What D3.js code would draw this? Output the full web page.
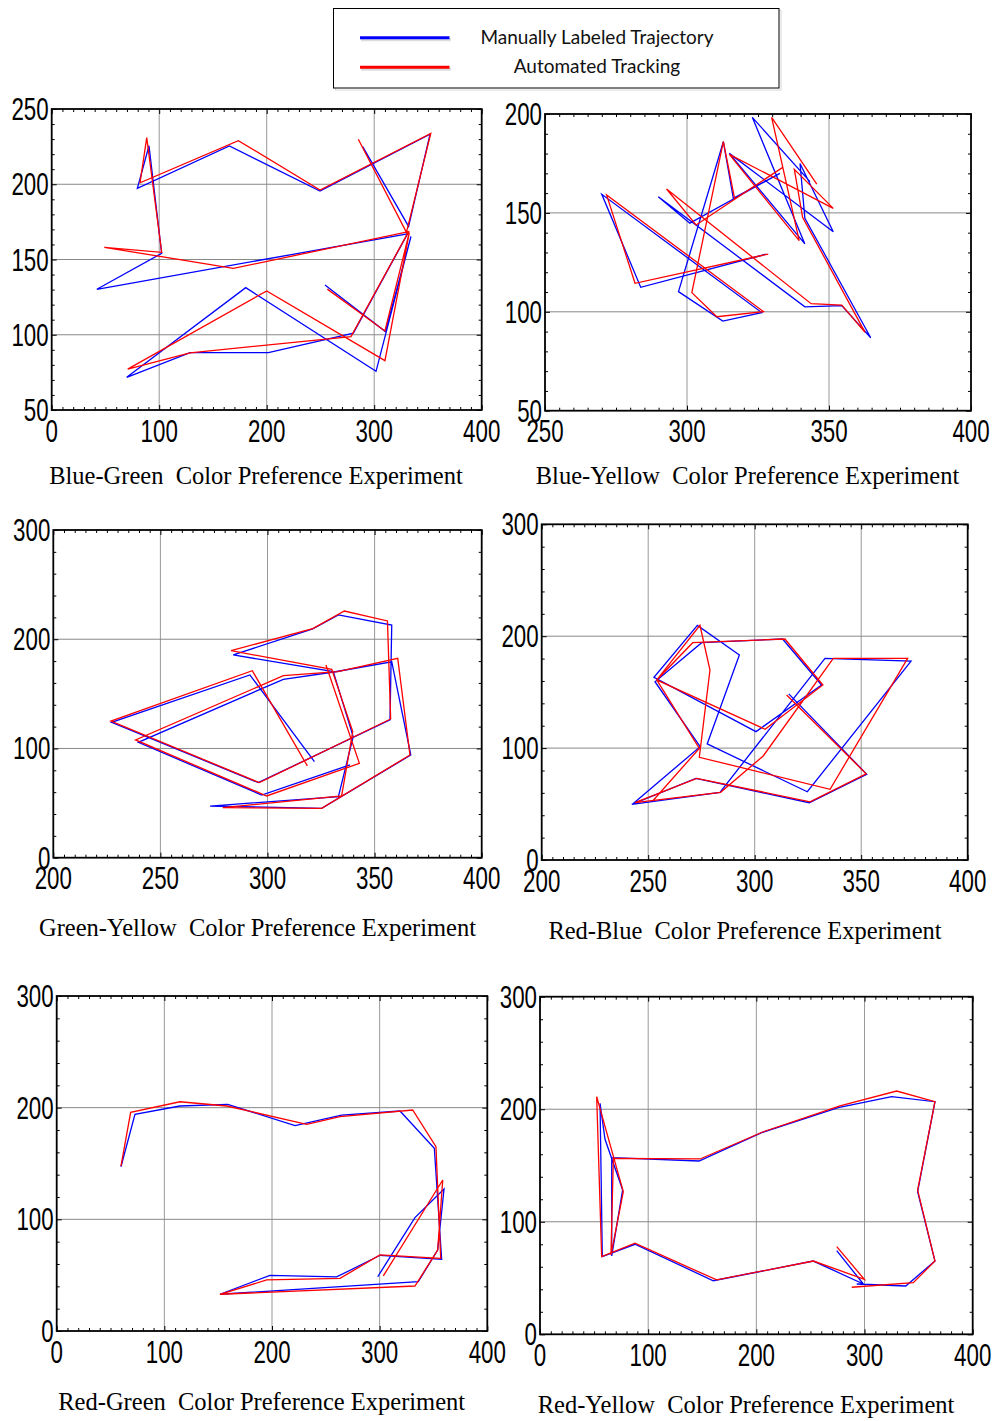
<!DOCTYPE html>
<html>
<head>
<meta charset="utf-8">
<script src="https://cdn.jsdelivr.net/npm/d3@7/dist/d3.min.js"></script>
<style>
  body { margin: 0; background: #fff; }
  svg { display: block; }
</style>
</head>
<body>
<svg id="chart" width="997" height="1421"></svg>
<script>

// legend
var legendLabels = ["Manually Labeled Trajectory", "Automated Tracking"];

// tick values
var ticks0to400 = [0, 100, 200, 300, 400];
var ticks250to400 = [250, 300, 350, 400];
var ticks200to400 = [200, 250, 300, 350, 400];
var ticks50to250 = [50, 100, 150, 200, 250];
var ticks50to200 = [50, 100, 150, 200];
var ticks0to300 = [0, 100, 200, 300];

// trajectories, [x, y] pairs
var blueGreenManual = [[254.2,133.1],[310.4,102.1],[334.2,165.3],[301.7,75.7],[180.5,131.3],[69.8,71.7],[128.7,88.1],[201.6,88.1],[280.6,101.1],[331,167],[42,130.2],[102.3,154.1],[90.5,225.6],[79.7,197.3],[165.3,225.4],[249.6,195.5],[351.9,233.2],[332,172],[289.3,225]];
var blueGreenAuto = [[256.4,130.3],[310,102.5],[332.7,168],[310,82.8],[200,129.1],[70.7,77.2],[128.7,88],[278.4,98.8],[332,168.5],[169,144.1],[49,158.1],[102.3,154.8],[88.4,231],[82.2,201],[173.6,229],[249.6,196.2],[352.6,233.8],[330,168],[285.2,229.9]];

var blueYellowManual = [[327.8,129.1],[283.7,112.4],[270,159.4],[326.3,99.6],[312.6,95.3],[297,110.2],[312.8,186],[316.3,157.4],[332.7,170],[301,144.8],[289.9,158.2],[341.5,102.5],[354.5,103.1],[364.7,86.9],[341.5,147.3],[339.8,175],[351.5,140.5],[314.9,180.1],[341.5,134.3],[323,198.3],[343.3,165.8]];
var blueYellowAuto = [[328.6,129.2],[281.7,114.4],[271.7,159],[326.9,100.1],[310.5,97.5],[301.7,109.7],[312.8,186],[316.8,157],[333.7,173],[303.2,143.9],[292.8,162.1],[343.7,104.1],[354.5,103.4],[362.7,89.6],[340.7,147.8],[337.8,172],[351.5,152.3],[314.9,179.6],[339.5,136],[329.8,198.3],[345.7,164.6]];

var greenYellowManual = [[321.9,87.9],[291.8,167.3],[227.2,123.9],[295.7,68.7],[357.2,126.2],[358,213],[333.1,222.2],[321.1,209.4],[284,185.6],[330.7,170.3],[340,110.8],[333.1,55.8],[273.2,47.3],[325.3,45.2],[366.9,94],[358,179.4],[331,170],[307.4,163.3],[239.7,105.6],[297.3,57.4],[338.5,85]];
var greenYellowAuto = [[318.6,84],[292.9,171.2],[226.9,125.1],[296.2,68.7],[357.5,127],[356,216.7],[335.9,225.8],[321.1,209.8],[283,189.5],[330,172.5],[339.8,115.4],[334.6,56.5],[279.1,45.8],[325.3,45.2],[366.5,94],[360.8,182.5],[332.8,170.3],[307.4,166.6],[238.4,107.8],[299.6,56.5],[342.9,86.4],[327.3,176.4]];

var redBlueManual = [[316,148.5],[352.6,76.6],[325.6,51.2],[272.4,73],[242.3,49.8],[283.7,60.5],[333,180.2],[373.4,177.8],[324.7,61],[277.7,103.7],[292.8,183.2],[273.1,209.7],[252.7,163.3],[300.6,114.7],[331.4,156.4],[313.1,197.5],[275.1,194.2],[253.2,159.3],[274.4,101.3],[243,50.5]];
var redBlueAuto = [[315,147.4],[352.3,77.1],[326,52],[272.8,73],[243.8,51.2],[284,60.5],[304,93],[336.9,180.2],[371.8,180.2],[335.4,63.2],[274,91.8],[279,169.8],[274.3,209.7],[254,160.9],[304.9,116.8],[332,156.4],[314.2,197.5],[270.9,194.2],[254,160.9],[274,99.8],[252.1,52.7]];

var redGreenManual = [[59.7,147.1],[72.7,194],[114.5,201.5],[158.8,203],[221.4,183.9],[264.7,193.4],[318.9,197],[350.8,163.6],[357.6,64.2],[300.3,67.8],[260.1,48.4],[198.1,49.9],[151.7,32.9],[335.9,44.2],[353.9,72.5],[359.8,127.2],[332.8,101.5],[298.2,48.6]];
var redGreenAuto = [[59.7,147.7],[68.7,195.8],[114.5,205.3],[158,201.5],[232.2,185.1],[263.2,191.9],[330.7,197.9],[352.3,165],[356.7,65.1],[300.3,68.1],[263.2,47.2],[195.1,45.7],[151.7,32.9],[332.8,40.3],[353.9,72.5],[358.6,135.2],[303.4,49.3]];

var redYellowManual = [[292.8,44.7],[338.1,42.9],[365.1,65.1],[349.1,126.7],[365.1,206.7],[325.1,211.2],[275.7,201.4],[204.9,179.2],[147,154],[66.3,157],[66.3,69.6],[76.4,128.3],[60.1,173.3],[55.5,205.3],[57.6,69],[87.8,80],[160.2,47.6],[252.7,65.1],[298.9,44.7],[274.3,74.3]];
var redYellowAuto = [[288.2,41.8],[345.1,45.9],[365.1,65.1],[349.1,128.2],[365.1,206.7],[329.7,216.2],[277.3,202.9],[206.4,180],[147.9,155.8],[67.8,156.4],[65.6,70.5],[77,126.7],[52.4,211.2],[57,69],[87.8,80.9],[163.3,48.3],[252.7,65.1],[299.8,48.9],[274.3,77.9]];

// panel layout
var panels = [
  { caption: "Blue-Green  Color Preference Experiment", manual: blueGreenManual, auto: blueGreenAuto,
    xTicks: ticks0to400, yTicks: ticks50to250, xMinor: 10, yMinor: 10,
    left: 51.7, top: 109, right: 481.7, bottom: 410, capX: 256, capY: 483.5 },
  { caption: "Blue-Yellow  Color Preference Experiment", manual: blueYellowManual, auto: blueYellowAuto,
    xTicks: ticks250to400, yTicks: ticks50to200, xMinor: 5, yMinor: 10,
    left: 545, top: 114, right: 971, bottom: 410.7, capX: 747.5, capY: 483.5 },
  { caption: "Green-Yellow  Color Preference Experiment", manual: greenYellowManual, auto: greenYellowAuto,
    xTicks: ticks200to400, yTicks: ticks0to300, xMinor: 5, yMinor: 20,
    left: 53.3, top: 530, right: 481.7, bottom: 857.7, capX: 257.5, capY: 936 },
  { caption: "Red-Blue  Color Preference Experiment", manual: redBlueManual, auto: redBlueAuto,
    xTicks: ticks200to400, yTicks: ticks0to300, xMinor: 5, yMinor: 20,
    left: 541.7, top: 524.3, right: 967.7, bottom: 860, capX: 745, capY: 938.5 },
  { caption: "Red-Green  Color Preference Experiment", manual: redGreenManual, auto: redGreenAuto,
    xTicks: ticks0to400, yTicks: ticks0to300, xMinor: 10, yMinor: 20,
    left: 56.7, top: 996, right: 487.3, bottom: 1331, capX: 261.7, capY: 1409.5 },
  { caption: "Red-Yellow  Color Preference Experiment", manual: redYellowManual, auto: redYellowAuto,
    xTicks: ticks0to400, yTicks: ticks0to300, xMinor: 10, yMinor: 20,
    left: 540, top: 996.7, right: 972.7, bottom: 1334.3, capX: 746, capY: 1413 }
];

var svg = d3.select("#chart");
var BLUE = "#0000ff", RED = "#ff0000";

function minorValues(ticks, step) {
    var lo = d3.min(ticks), hi = d3.max(ticks);
    return d3.range(lo, hi + 0.001, step).filter(function(v) {
        return ticks.indexOf(v) < 0;
    });
}

function tickAxis(axisFn, scale, values, size) {
    return axisFn(scale).tickValues(values).tickSize(-size).tickFormat("");
}

panels.forEach(function(p) {

    var x = d3.scaleLinear().domain(d3.extent(p.xTicks)).range([p.left, p.right]);
    var y = d3.scaleLinear().domain(d3.extent(p.yTicks)).range([p.bottom, p.top]);
    var g = svg.append("g");

    // grid at the inner major ticks
    g.selectAll("line.vgrid")
        .data(p.xTicks.slice(1, -1))
      .enter()
        .append("line")
        .attr("x1", function(d) { return x(d); })
        .attr("x2", function(d) { return x(d); })
        .attr("y1", p.top).attr("y2", p.bottom)
        .attr("stroke", "#999").attr("stroke-width", 1);

    g.selectAll("line.hgrid")
        .data(p.yTicks.slice(1, -1))
      .enter()
        .append("line")
        .attr("y1", function(d) { return y(d); })
        .attr("y2", function(d) { return y(d); })
        .attr("x1", p.left).attr("x2", p.right)
        .attr("stroke", "#888").attr("stroke-width", 1);

    // inward ticks on all four sides
    var xm = minorValues(p.xTicks, p.xMinor), ym = minorValues(p.yTicks, p.yMinor);
    var axes = [
        [d3.axisBottom, x, "translate(0," + p.bottom + ")"],
        [d3.axisTop, x, "translate(0," + p.top + ")"],
        [d3.axisLeft, y, "translate(" + p.left + ",0)"],
        [d3.axisRight, y, "translate(" + p.right + ",0)"]
    ];
    axes.forEach(function(a) {
        var isX = (a[1] === x);
        [[isX ? p.xTicks : p.yTicks, 5], [isX ? xm : ym, 3]].forEach(function(t) {
            var ax = g.append("g").attr("transform", a[2])
                .call(tickAxis(a[0], a[1], t[0], t[1]));
            ax.select(".domain").remove();
            ax.selectAll("line").attr("stroke", "#000").attr("stroke-width", 1);
        });
    });

    // trajectories
    var line = d3.line()
        .x(function(d) { return x(d[0]); })
        .y(function(d) { return y(d[1]); });

    g.append("path").datum(p.manual)
        .attr("d", line)
        .attr("fill", "none").attr("stroke", BLUE).attr("stroke-width", 1.3)
        .attr("stroke-linejoin", "miter");
    g.append("path").datum(p.auto)
        .attr("d", line)
        .attr("fill", "none").attr("stroke", RED).attr("stroke-width", 1.3)
        .attr("stroke-linejoin", "miter");

    // frame
    g.append("rect")
        .attr("x", p.left).attr("y", p.top)
        .attr("width", p.right - p.left).attr("height", p.bottom - p.top)
        .attr("fill", "none").attr("stroke", "#000").attr("stroke-width", 1.8);

    // tick labels (condensed)
    g.selectAll("text.xlab")
        .data(p.xTicks)
      .enter()
        .append("text")
        .attr("transform", function(d) {
            return "translate(" + x(d) + "," + (p.bottom + 31.5) + ") scale(0.72,1)";
        })
        .attr("text-anchor", "middle")
        .style("font-family", "'Liberation Sans', Arial, sans-serif")
        .style("font-size", "31px")
        .text(function(d) { return d; });

    g.selectAll("text.ylab")
        .data(p.yTicks)
      .enter()
        .append("text")
        .attr("transform", function(d) {
            return "translate(" + (p.left - 3) + "," + (y(d) + 11) + ") scale(0.72,1)";
        })
        .attr("text-anchor", "end")
        .style("font-family", "'Liberation Sans', Arial, sans-serif")
        .style("font-size", "31px")
        .text(function(d) { return d; });

    // caption
    g.append("text")
        .attr("x", p.capX).attr("y", p.capY)
        .attr("text-anchor", "middle")
        .attr("xml:space", "preserve")
        .style("white-space", "pre")
        .style("font-family", "'Liberation Serif', 'Times New Roman', serif")
        .style("font-size", "24.5px")
        .text(p.caption);
});

// legend box
var legend = svg.append("g");
legend.append("rect")
    .attr("x", 335.5).attr("y", 10.5).attr("width", 445.5).attr("height", 79.5)
    .attr("fill", "none").attr("stroke", "#d8d8d8").attr("stroke-width", 1);
legend.append("rect")
    .attr("x", 333.5).attr("y", 8.5).attr("width", 445.5).attr("height", 79.5)
    .attr("fill", "#fff").attr("stroke", "#000").attr("stroke-width", 1);

var legendColors = [BLUE, RED];
var legendY = [37.7, 67.3];

legend.selectAll("line.shadow")
    .data(legendLabels)
  .enter()
    .append("line")
    .attr("x1", 361).attr("x2", 451)
    .attr("y1", function(d, i) { return legendY[i] + 2; })
    .attr("y2", function(d, i) { return legendY[i] + 2; })
    .attr("stroke", "#dcdcdc").attr("stroke-width", 3);

legend.selectAll("line.key")
    .data(legendLabels)
  .enter()
    .append("line")
    .attr("x1", 360).attr("x2", 449.5)
    .attr("y1", function(d, i) { return legendY[i]; })
    .attr("y2", function(d, i) { return legendY[i]; })
    .attr("stroke", function(d, i) { return legendColors[i]; })
    .attr("stroke-width", 3);

legend.selectAll("text")
    .data(legendLabels)
  .enter()
    .append("text")
    .attr("x", 597)
    .attr("y", function(d, i) { return legendY[i] + 6; })
    .attr("text-anchor", "middle")
    .style("font-family", "Lato, 'Open Sans', sans-serif")
    .style("font-size", "19px")
    .style("fill", "#111")
    .text(function(d) { return d; });

</script>
</body>
</html>
